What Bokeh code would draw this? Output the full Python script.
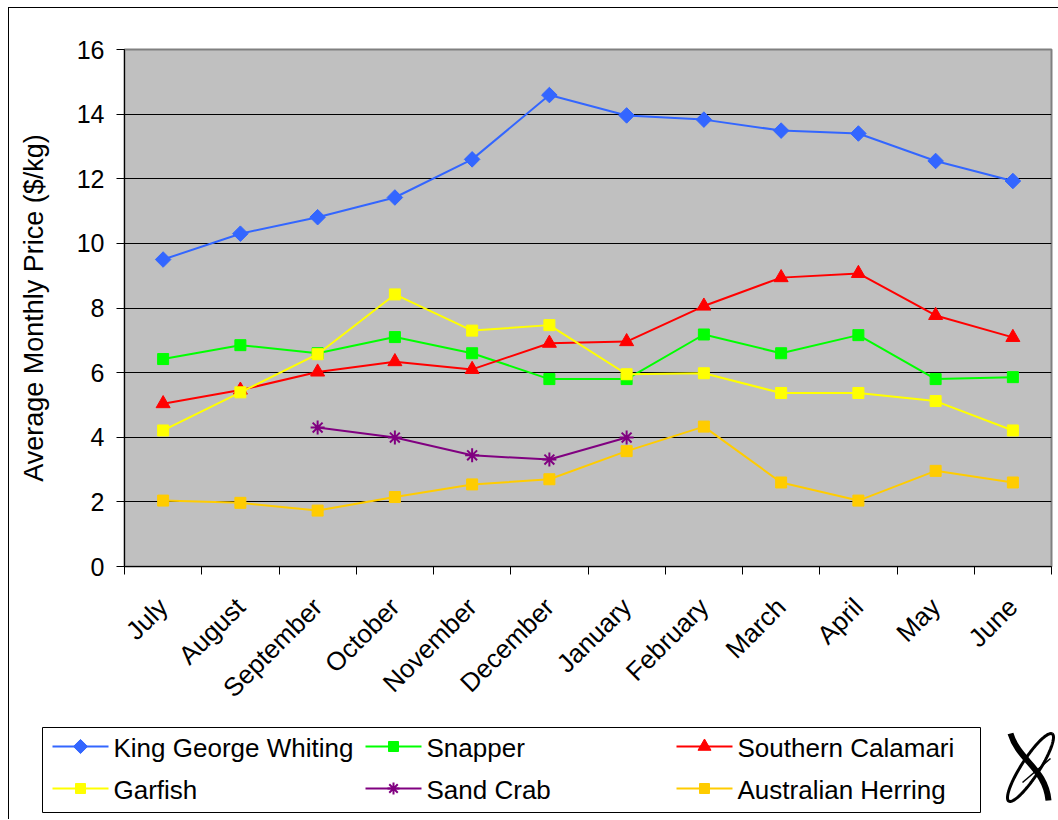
import math
import numpy as np
from bokeh.plotting import figure
from bokeh.layouts import column, row
from bokeh.models import FixedTicker, Range1d
from bokeh.core.properties import value
from bokeh.embed import file_html
from bokeh.resources import INLINE

months = ["July", "August", "September", "October", "November", "December",
          "January", "February", "March", "April", "May", "June"]

king_george_whiting = [9.50, 10.30, 10.81, 11.42, 12.60, 14.59, 13.96, 13.83, 13.49, 13.40, 12.55, 11.93]
snapper = [6.42, 6.85, 6.60, 7.10, 6.60, 5.80, 5.80, 7.18, 6.60, 7.16, 5.80, 5.86]
southern_calamari = [5.04, 5.46, 6.02, 6.34, 6.10, 6.91, 6.96, 8.06, 8.94, 9.07, 7.77, 7.09]
garfish = [4.21, 5.39, 6.57, 8.42, 7.30, 7.47, 5.95, 5.98, 5.37, 5.37, 5.12, 4.21]
sand_crab = [None, None, 4.30, 3.99, 3.44, 3.31, 3.99, None, None, None, None, None]
australian_herring = [2.04, 1.97, 1.73, 2.15, 2.54, 2.70, 3.57, 4.33, 2.60, 2.04, 2.96, 2.60]

series_names = ["King George Whiting", "Snapper", "Southern Calamari",
                "Garfish", "Sand Crab", "Australian Herring"]
series_values = [king_george_whiting, snapper, southern_calamari,
                 garfish, sand_crab, australian_herring]

y_ticks = [0, 2, 4, 6, 8, 10, 12, 14, 16]

FONT = "Liberation Sans"

# styles: (color, marker, size, angle)
styles = [
    ("#3366FF", "square", 11, math.pi / 4),
    ("#00FF00", "square", 11, 0),
    ("#FF0000", "triangle", 14, 0),
    ("#FFFF00", "square", 11, 0),
    ("#800080", "asterisk", 14, 0),
    ("#FFCC00", "square", 11, 0),
]

W = 1049
p = figure(width=W, height=712, output_backend="svg", toolbar_location=None,
           x_range=Range1d(0, len(months)), y_range=Range1d(0, 16),
           min_border_left=115, min_border_right=7, min_border_top=41,
           min_border_bottom=154)
p.background_fill_color = "#C0C0C0"
p.border_fill_color = "white"
p.outline_line_color = "#808080"
p.outline_line_width = 2

xs = [i + 0.5 for i in range(len(months))]

def arr(v):
    return np.array([np.nan if a is None else a for a in v], dtype=float)

for name, vals, (color, marker, size, ang) in zip(series_names, series_values, styles):
    y = arr(vals)
    p.line(xs, y, line_color=color, line_width=2)
    if marker == "asterisk":
        p.scatter(xs, y, marker=marker, size=size, line_color=color, line_width=2)
    else:
        p.scatter(xs, y, marker=marker, size=size, angle=ang,
                  fill_color=color, line_color=color)

# Y axis
p.yaxis.ticker = FixedTicker(ticks=y_ticks)
p.yaxis.major_label_text_font = FONT
p.yaxis.major_label_text_font_size = "25px"
p.yaxis.major_label_text_color = "black"
p.yaxis.major_tick_out = 8
p.yaxis.major_tick_in = 0
p.yaxis.minor_tick_line_color = None
p.yaxis.major_label_standoff = 12
p.yaxis.axis_line_color = "black"
p.yaxis.major_tick_line_color = "black"
p.yaxis.axis_label = "Average Monthly Price ($/kg)"
p.yaxis.axis_label_text_font = FONT
p.yaxis.axis_label_text_font_size = "27px"
p.yaxis.axis_label_text_font_style = "normal"
p.yaxis.axis_label_text_color = "black"
p.yaxis.axis_label_standoff = 25

# X axis
p.xaxis.ticker = FixedTicker(ticks=xs, minor_ticks=list(range(len(months) + 1)))
p.xaxis.major_label_overrides = {x: m for x, m in zip(xs, months)}
p.xaxis.major_label_orientation = math.pi / 4
p.xaxis.major_label_text_font = FONT
p.xaxis.major_label_text_font_size = "26px"
p.xaxis.major_label_text_color = "black"
p.xaxis.major_tick_out = 0
p.xaxis.major_tick_in = 0
p.xaxis.minor_tick_out = 8
p.xaxis.minor_tick_in = 0
p.xaxis.minor_tick_line_color = "black"
p.xaxis.major_label_standoff = 28
p.xaxis.axis_line_color = "black"

p.xgrid.grid_line_color = None
p.ygrid.ticker = FixedTicker(ticks=y_ticks)
p.ygrid.grid_line_color = "black"
p.ygrid.grid_line_width = 1

# Legend panel, drawn in page pixel coordinates
X0, Y0 = 9, 720
H = 99
lg = figure(width=W, height=H, output_backend="svg", toolbar_location=None,
            x_range=Range1d(X0, X0 + W), y_range=Range1d(Y0 + H, Y0),
            x_axis_location=None, y_axis_location=None,
            min_border_left=0, min_border_right=0, min_border_top=0, min_border_bottom=0)
for fig in (p, lg):
    if "frame_align" in fig.properties():
        fig.frame_align = False
lg.grid.visible = False
lg.outline_line_color = None
lg.background_fill_color = "white"
lg.border_fill_color = "white"

lg.quad(left=42, right=980, top=727, bottom=812, fill_color="white", line_color="black", line_width=1)

col_x = [52, 365, 676]
row_y = [746, 788]
for k, (name, (color, marker, size, ang)) in enumerate(zip(series_names, styles)):
    cx = col_x[k % 3]
    cy = row_y[k // 3]
    lg.segment(x0=[cx], y0=[cy], x1=[cx + 56], y1=[cy], line_color=color, line_width=2)
    if marker == "asterisk":
        lg.scatter([cx + 28], [cy], marker=marker, size=12, line_color=color, line_width=2)
    else:
        lg.scatter([cx + 28], [cy], marker=marker, size=size - 1 if marker != "triangle" else 13,
                   angle=ang, fill_color=color, line_color=color)
    lg.text([cx + 61], [cy + 1], text=[name], text_font=value(FONT), text_font_size="26px",
            text_baseline="middle", text_align="left", text_color="black")

# logo (decorative)
t = np.linspace(0, 2 * np.pi, 120)
u = np.array([44.0, -68.0]); u /= np.linalg.norm(u)
v = np.array([-u[1], u[0]])
ex = 1030 + 40 * np.cos(t) * u[0] + 9 * np.sin(t) * v[0]
ey = 767 + 40 * np.cos(t) * u[1] + 9 * np.sin(t) * v[1]
lg.line(ex, ey, line_color="black", line_width=3)
lg.bezier(x0=[1010], y0=[733], x1=[1048], y1=[800], cx0=[1018], cy0=[760],
          cx1=[1045], cy1=[768], line_color="black", line_width=6)
lg.segment(x0=[1050], y0=[758], x1=[1022], y1=[782], line_color="black", line_width=1.5)

layout = column(p, row(lg, spacing=0), spacing=0, margin=(7, 0, 0, 8),
                styles={"border-left": "1px solid black", "border-top": "1px solid black"})

open("out.html", "w").write(file_html(layout, INLINE))
